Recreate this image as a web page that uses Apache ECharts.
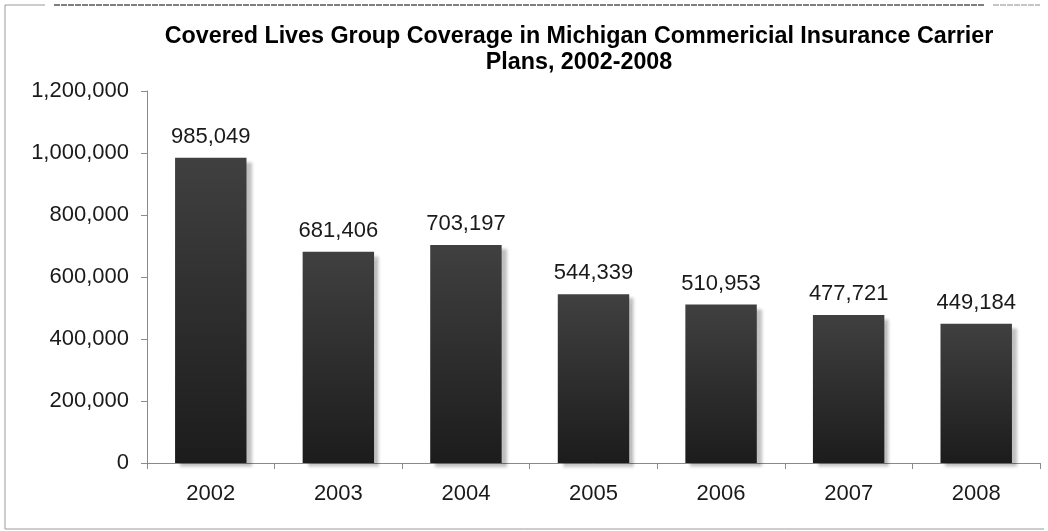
<!DOCTYPE html>
<html>
<head>
<meta charset="utf-8">
<script src="https://cdn.jsdelivr.net/npm/echarts@6/dist/echarts.min.js"></script>
<style>
  html, body { margin: 0; padding: 0; background: #ffffff; }
  #chart { width: 1048px; height: 531px; }
</style>
</head>
<body>
<div id="chart"></div>
<script>
// Covered lives, group coverage, by plan year
const years = ['2002', '2003', '2004', '2005', '2006', '2007', '2008'];
const coveredLives = [985049, 681406, 703197, 544339, 510953, 477721, 449184];
const yTicks = [0, 200000, 400000, 600000, 800000, 1000000, 1200000];

const titleText = 'Covered Lives Group Coverage in Michigan Commericial Insurance Carrier\nPlans, 2002-2008';
const fontFamily = '"Liberation Sans", Arial, sans-serif';

const fmt = v => v.toLocaleString('en-US');

const chart = echarts.init(document.getElementById('chart'), null, { renderer: 'canvas' });

chart.setOption({
  backgroundColor: '#ffffff',
  animation: false,
  title: {
    text: titleText,
    left: 574,
    top: 19,
    textAlign: 'center',
    textStyle: {
      fontFamily: fontFamily,
      fontWeight: 'bold',
      fontSize: 23.3,
      lineHeight: 26,
      color: '#000000'
    }
  },
  grid: { left: 147, right: 8, top: 91, bottom: 68, containLabel: false },
  xAxis: {
    type: 'category',
    data: years,
    axisLine: { lineStyle: { color: '#8a8a8a', width: 1 } },
    axisTick: { show: true, alignWithLabel: false, length: 6, lineStyle: { color: '#8a8a8a' } },
    axisLabel: { fontFamily: fontFamily, fontSize: 22, color: '#1a1a1a', margin: 20 },
    splitLine: { show: false }
  },
  yAxis: {
    type: 'value',
    min: yTicks[0],
    max: yTicks[yTicks.length - 1],
    interval: yTicks[1] - yTicks[0],
    axisLine: { show: true, lineStyle: { color: '#8a8a8a', width: 1 } },
    axisTick: { show: true, length: 6, lineStyle: { color: '#8a8a8a' } },
    axisLabel: { fontFamily: fontFamily, fontSize: 22, color: '#1a1a1a', margin: 18, formatter: v => fmt(v) },
    splitLine: { show: false }
  },
  series: [{
    type: 'bar',
    data: coveredLives,
    barWidth: '56%',
    itemStyle: {
      color: new echarts.graphic.LinearGradient(0, 0, 0, 1, [
        { offset: 0, color: '#404040' },
        { offset: 1, color: '#1c1c1c' }
      ]),
      shadowColor: 'rgba(0,0,0,0.25)',
      shadowBlur: 3,
      shadowOffsetX: 5,
      shadowOffsetY: 4
    },
    label: {
      show: true,
      position: 'top',
      distance: 10,
      fontFamily: fontFamily,
      fontSize: 22,
      color: '#1a1a1a',
      formatter: p => fmt(p.value)
    }
  }],
  graphic: [
    { type: 'line', shape: { x1: 5, y1: 5, x2: 5, y2: 529 }, style: { stroke: '#9a9a9a', lineWidth: 1 } },
    { type: 'line', shape: { x1: 5, y1: 529, x2: 1044, y2: 529 }, style: { stroke: '#9a9a9a', lineWidth: 1 } },
    { type: 'line', shape: { x1: 5, y1: 5, x2: 45, y2: 5 }, style: { stroke: '#9a9a9a', lineWidth: 1 } },
    { type: 'line', shape: { x1: 54, y1: 5, x2: 985, y2: 5 }, style: { stroke: '#555555', lineWidth: 1.5, lineDash: [6, 1] } },
    { type: 'line', shape: { x1: 993, y1: 5, x2: 1040, y2: 5 }, style: { stroke: '#8a8a8a', lineWidth: 1, lineDash: [6, 1] } }
  ]
});
</script>
</body>
</html>
